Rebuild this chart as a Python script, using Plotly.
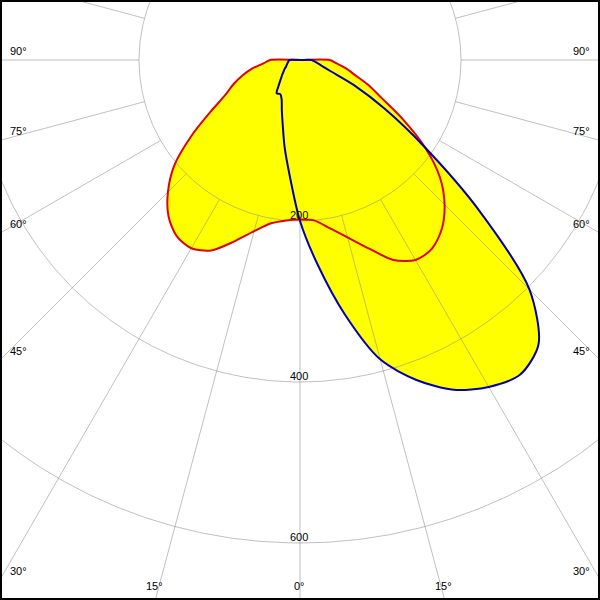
import numpy as np
import plotly.graph_objects as go

# ---- data: luminous intensity (cd) vs gamma angle (deg); negative = left half-plane ----
red_angles = [-180, -90, -85, -80, -75, -70, -65, -60, -55, -50, -45, -40, -35, -30, -25, -20, -15, -10, -5,
              0, 5, 10, 15, 20, 25, 30, 35, 40, 45, 50, 55, 60, 65, 70, 75, 80, 85, 90, 180]
red_values = [0, 37, 45, 60, 74, 88, 102, 128, 165, 204, 232, 254, 267, 270, 261, 240, 220, 206, 200,
              198, 200, 212, 228, 249, 274, 287, 286, 274, 254, 227, 190, 148, 112, 90, 70, 57, 45, 37, 0]

blue_angles = [-180, -90, -80, -70, -65, -60, -55, -50, -45, -40, -35, -30, -25, -20, -15, -10, -5,
               0, 5, 10, 15, 20, 25, 30, 35, 40, 45, 50, 55, 60, 65, 70, 75, 80, 85, 90, 180]
blue_values = [0, 13, 15, 17.5, 19, 22, 25, 29, 34, 41, 50.5, 49, 54, 66, 83, 110, 145,
               200, 256, 321, 385, 423, 452, 469, 477, 461, 403, 290, 190, 122, 74, 40, 28, 22, 17.5, 14.5, 0]

radial_ticks = [200, 400, 600]
radial_tick_labels = ["200", "400", "600"]
side_angle_labels = [90, 75, 60, 45, 30]
bottom_angle_labels = [15, 0]

W = H = 600
CX, CY = 300.0, 60.0       # pixel position of the polar origin
S = 0.805                  # pixels per cd

def to_xy(ang, val):
    a = np.radians(np.asarray(ang, float))
    v = np.asarray(val, float)
    return v * np.sin(a), -v * np.cos(a)

fig = go.Figure()

# yellow fills
for ang, val in [(red_angles, red_values), (blue_angles, blue_values)]:
    x, y = to_xy(ang, val)
    fig.add_trace(go.Scatter(x=x, y=y, mode="lines", fill="toself", fillcolor="#ffff00",
                             line=dict(width=0, color="#ffff00", shape="spline", smoothing=0.8),
                             hoverinfo="skip"))

grid_col = "rgba(140,140,140,0.55)"
# circles
t = np.linspace(0, 360, 721)
for r in radial_ticks:
    x, y = to_xy(t, np.full_like(t, r))
    fig.add_trace(go.Scatter(x=x, y=y, mode="lines", line=dict(color=grid_col, width=1), hoverinfo="skip"))
# radial spokes from the first circle outward
for a in range(-180, 181, 15):
    x, y = to_xy([a, a], [radial_ticks[0], 1200])
    fig.add_trace(go.Scatter(x=x, y=y, mode="lines", line=dict(color=grid_col, width=1), hoverinfo="skip"))

# outlines
for ang, val, col in [(red_angles, red_values, "#e00000"), (blue_angles, blue_values, "#0000b4")]:
    x, y = to_xy(ang, val)
    fig.add_trace(go.Scatter(x=x, y=y, mode="lines",
                             line=dict(color=col, width=2, shape="spline", smoothing=0.8),
                             hoverinfo="skip"))

ann = []
font = dict(family="Liberation Sans, Arial, sans-serif", size=11, color="black")
for r, lab in zip(radial_ticks, radial_tick_labels):
    ann.append(dict(x=0, y=-r, xref="x", yref="y", text=lab, showarrow=False, font=font,
                    xanchor="center", yanchor="bottom", xshift=-1, yshift=-2))

def paper(px, py):
    return px / W, 1 - py / H

for a in side_angle_labels:
    ey = CY + CX / np.tan(np.radians(a)) if a != 90 else CY
    px, py = paper(8, ey - 1)
    ann.append(dict(x=px, y=py, xref="paper", yref="paper", text=f"{a}°", showarrow=False, font=font,
                    xanchor="left", yanchor="bottom"))
    px, py = paper(W - 8, ey - 1)
    ann.append(dict(x=px, y=py, xref="paper", yref="paper", text=f"{a}°", showarrow=False, font=font,
                    xanchor="right", yanchor="bottom"))
for a in bottom_angle_labels:
    ex = (H - CY) * np.tan(np.radians(a))
    for sgn in ([-1, 1] if a != 0 else [1]):
        px, py = paper(CX + sgn * ex - 1, H - 6)
        ann.append(dict(x=px, y=py, xref="paper", yref="paper", text=f"{a}°", showarrow=False, font=font,
                        xanchor="center", yanchor="bottom"))

fig.update_layout(
    width=W, height=H, margin=dict(l=0, r=0, t=0, b=0),
    paper_bgcolor="white", plot_bgcolor="white", showlegend=False,
    xaxis=dict(range=[-CX / S, (W - CX) / S], visible=False, fixedrange=True),
    yaxis=dict(range=[-(H - CY) / S, CY / S], visible=False, fixedrange=True),
    annotations=ann,
    shapes=[dict(type="rect", xref="paper", yref="paper", x0=0, y0=0, x1=1, y1=1,
                 line=dict(color="black", width=4), layer="above")],
)
fig.write_html("out.html", config={"displayModeBar": False},
               post_script="document.body.style.margin='0px';document.body.style.overflow='hidden';")
